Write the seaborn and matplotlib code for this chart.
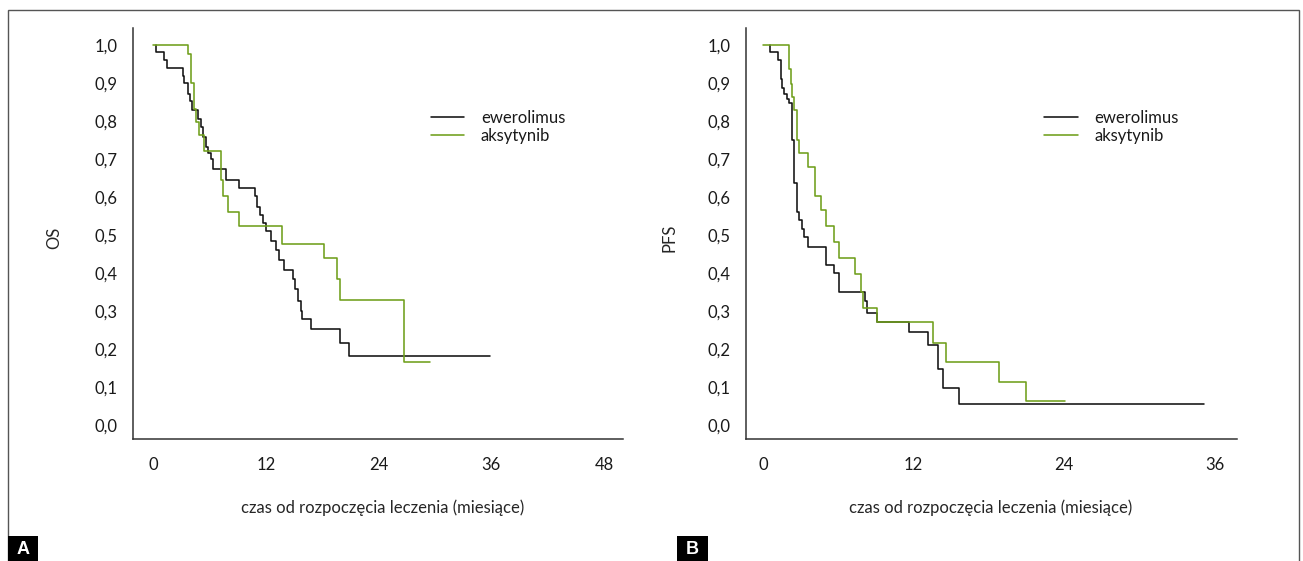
import pandas as pd
import matplotlib.pyplot as plt
from matplotlib.patches import Rectangle
import seaborn as sns

# krzywe Kaplana-Meiera (czas w miesiacach, odsetek)
os_ewe_t = [0.3, 0.3, 1.2, 1.45, 3.15, 3.3, 3.7, 3.9, 4.1, 4.8, 5.1, 5.35, 5.6, 5.9, 6.2, 6.4,
            7.8, 9.2, 10.9, 11.1, 11.4, 11.7, 12.0, 12.5, 13.1, 13.4, 13.9, 14.9, 15.1, 15.4,
            15.7, 15.9, 16.8, 19.9, 20.8, 35.8]
os_ewe_s = [1.0, 0.982, 0.961, 0.940, 0.919, 0.899, 0.872, 0.852, 0.830, 0.805, 0.785, 0.757,
            0.731, 0.717, 0.700, 0.673, 0.644, 0.624, 0.602, 0.574, 0.552, 0.532, 0.511, 0.484,
            0.460, 0.434, 0.408, 0.384, 0.357, 0.327, 0.300, 0.280, 0.252, 0.217, 0.182, 0.182]
os_aks_t = [0, 3.75, 4.0, 4.36, 4.6, 4.9, 5.46, 7.2, 7.4, 8.0, 9.15, 13.7, 18.2, 19.6, 19.9, 26.7, 29.5]
os_aks_s = [1.0, 0.976, 0.899, 0.833, 0.798, 0.763, 0.721, 0.645, 0.603, 0.560, 0.525, 0.477,
            0.440, 0.385, 0.328, 0.165, 0.165]

pfs_ewe_t = [0.56, 0.56, 1.17, 1.41, 1.54, 1.67, 1.89, 2.07, 2.28, 2.47, 2.68, 2.87, 3.08, 3.27,
             3.56, 5.02, 5.68, 6.08, 8.13, 8.31, 9.06, 11.61, 13.12, 13.92, 14.32, 15.65, 35.2]
pfs_ewe_s = [1.0, 0.982, 0.961, 0.912, 0.888, 0.870, 0.859, 0.848, 0.750, 0.638, 0.561, 0.539,
             0.517, 0.495, 0.469, 0.421, 0.399, 0.349, 0.325, 0.294, 0.272, 0.246, 0.210, 0.146,
             0.096, 0.055, 0.055]
pfs_aks_t = [0, 2.07, 2.23, 2.28, 2.47, 2.73, 2.87, 3.56, 4.14, 4.6, 5.02, 5.66, 6.08, 7.36, 7.78,
             7.99, 9.06, 13.52, 14.58, 18.83, 20.96, 24.1]
pfs_aks_s = [1.0, 0.938, 0.897, 0.864, 0.829, 0.750, 0.715, 0.680, 0.603, 0.566, 0.524, 0.482,
             0.440, 0.397, 0.351, 0.308, 0.272, 0.217, 0.167, 0.112, 0.063, 0.063]

drugs = ["ewerolimus", "aksytynib"]
colors = {"ewerolimus": "#111111", "aksytynib": "#6f9f1c"}
y_ticks = [0.0, 0.1, 0.2, 0.3, 0.4, 0.5, 0.6, 0.7, 0.8, 0.9, 1.0]
y_labels = ["0,0", "0,1", "0,2", "0,3", "0,4", "0,5", "0,6", "0,7", "0,8", "0,9", "1,0"]
xticks_a = [0, 12, 24, 36, 48]
xticks_b = [0, 12, 24, 36]
xlabel = "czas od rozpoczęcia leczenia (miesiące)"


def make_df(t1, s1, t2, s2):
    d1 = pd.DataFrame({"czas": t1, "odsetek": s1, "lek": drugs[0]})
    d2 = pd.DataFrame({"czas": t2, "odsetek": s2, "lek": drugs[1]})
    return pd.concat([d1, d2], ignore_index=True)


df_os = make_df(os_ewe_t, os_ewe_s, os_aks_t, os_aks_s)
df_pfs = make_df(pfs_ewe_t, pfs_ewe_s, pfs_aks_t, pfs_aks_s)

sns.set_theme(style="white")
plt.rcParams["font.family"] = ["Lato", "DejaVu Sans"]
plt.rcParams["text.color"] = "#1a1a1a"
fs = 12

W, H = 1303, 561
fig = plt.figure(figsize=(W / 100, H / 100), dpi=100)
ax_a = fig.add_axes([132.7 / W, 122 / H, 490.3 / W, 411 / H])
ax_b = fig.add_axes([745.7 / W, 122 / H, 491.3 / W, 411 / H])

panels = [
    (ax_a, df_os, "OS", xticks_a, (-2.16, 50.0), -0.144, 0.510),
    (ax_b, df_pfs, "PFS", xticks_b, (-1.38, 37.8), -0.138, 0.499),
]
for ax, df, ylab, xt, xl, ylab_x, xlab_x in panels:
    sns.lineplot(data=df, x="czas", y="odsetek", hue="lek", palette=colors,
                 estimator=None, sort=False, drawstyle="steps-post",
                 linewidth=1.15, ax=ax)
    ax.set_xlim(*xl)
    ax.set_ylim(-0.037, 1.045)
    ax.set_xticks(xt)
    ax.set_xticklabels([str(v) for v in xt])
    ax.set_yticks(y_ticks)
    ax.set_yticklabels(y_labels)
    ax.tick_params(length=0, labelsize=fs, labelcolor="#1a1a1a")
    ax.tick_params(axis="y", pad=11)
    ax.tick_params(axis="x", pad=13)
    sns.despine(ax=ax)
    for s in ["left", "bottom"]:
        ax.spines[s].set_color("#333333")
        ax.spines[s].set_linewidth(1.1)
    ax.set_xlabel(xlabel, fontsize=fs)
    ax.xaxis.label.set_va("center")
    ax.xaxis.set_label_coords(xlab_x, -0.168)
    ax.set_ylabel(ylab, fontsize=fs)
    ax.yaxis.set_label_coords(ylab_x, 0.49)
    ax.legend(loc="upper left", bbox_to_anchor=(0.608, 0.80), frameon=False,
              fontsize=fs, handlelength=2.0, handletextpad=1.0,
              labelspacing=0.12, borderpad=0, borderaxespad=0)

# ramka wokol calej rycin
fig.patches.append(Rectangle((8 / W, -0.05), 1291 / W, (551 / H) + 0.05,
                             transform=fig.transFigure, fill=False,
                             edgecolor="#555555", linewidth=1.0))

# oznaczenia paneli
for lab, x0, w in [("A", 8, 30), ("B", 677, 31)]:
    fig.patches.append(Rectangle((x0 / W, 0), w / W, 25 / H, transform=fig.transFigure,
                                 facecolor="black", edgecolor="none"))
    fig.text((x0 + w / 2) / W, 11 / H, lab, color="white", fontsize=13,
             fontweight="bold", ha="center", va="center",
             family=["Liberation Sans", "DejaVu Sans"])

fig.savefig("out.png", dpi=100)
